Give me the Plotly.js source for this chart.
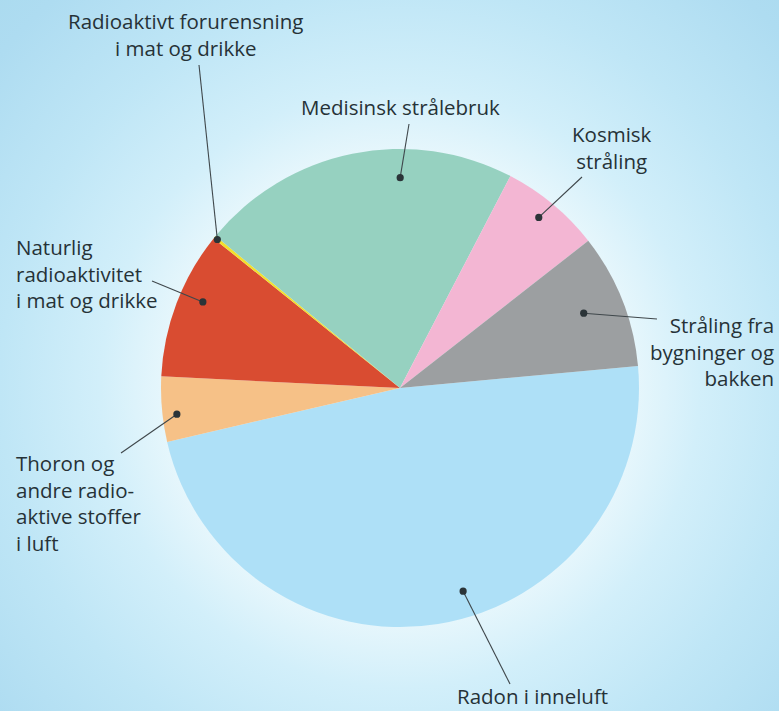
<!DOCTYPE html>
<html>
<head>
<meta charset="utf-8">
<script src="https://cdn.plot.ly/plotly-3.0.1.min.js"></script>
<style>
html,body{margin:0;padding:0;}
body{width:779px;height:711px;overflow:hidden;
background:radial-gradient(circle at 400px 388px,#f2fbfe 0px,#e8f7fc 230px,#d2effa 300px,#bfe6f6 400px,#aedcf1 520px,#a6d9ec 640px);}
#chart{width:779px;height:711px;}
</style>
</head>
<body>
<div id="chart"></div>
<script>
// Data (share of total annual radiation dose, %)
const categories = [
  "Radon i inneluft",
  "Thoron og andre radioaktive stoffer i luft",
  "Naturlig radioaktivitet i mat og drikke",
  "Radioaktivt forurensning i mat og drikke",
  "Medisinsk strålebruk",
  "Kosmisk stråling",
  "Stråling fra bygninger og bakken"
];
const values = [47.9, 4.4, 10.0, 0.2, 21.7, 6.8, 9.1];
const labelTexts = [
  "Radon i inneluft",
  "Thoron og<br>andre radio-<br>aktive stoffer<br>i luft",
  "Naturlig<br>radioaktivitet<br>i mat og drikke",
  "Radioaktivt forurensning<br>i mat og drikke",
  "Medisinsk strålebruk",
  "Kosmisk<br>stråling",
  "Stråling fra<br>bygninger og<br>bakken"
];

// Styling / layout
const colors = ["#aee0f7", "#f6c187", "#d94c31", "#f3df2c", "#96d1c0", "#f3b6d3", "#9c9fa1"];
const W = 779, H = 711;
const CX = 400, CY = 388, R = 239;
const ROT = 84.7;
// label placement: [x px, y px, xanchor, align]
const labelPos = [
  [532, 696, "center", "center"],
  [15, 503, "left", "left"],
  [15, 273, "left", "left"],
  [185, 35, "center", "center"],
  [400, 107, "center", "center"],
  [612, 148, "center", "center"],
  [775, 351, "right", "right"]
];
// leader line tail (px) and dot placement within slice [angle fraction, radius fraction]
const leaderTail = [[510, 684], [121, 453], [152, 281], [199, 65], [409, 124], [582, 177], [657, 319]];
const dotPlace = [[0.453, 0.89], [0.4, 0.94], [0.578, 0.90], [0.5, 0.985], [0.648, 0.88], [0.475, 0.92], [0.485, 0.83]];

const px = x => x / W;
const py = y => 1 - y / H;

const total = values.reduce((a, b) => a + b, 0);
const shapes = [];
const annotations = [];
let cum = 0;
values.forEach((v, i) => {
  const frac = (cum + dotPlace[i][0] * v) / total;
  cum += v;
  const ang = (ROT + 360 * frac) * Math.PI / 180; // clockwise from 12 o'clock
  const rr = R * dotPlace[i][1];
  const dx = CX + rr * Math.sin(ang);
  const dy = CY - rr * Math.cos(ang);
  const t = leaderTail[i];
  shapes.push({type: "line", xref: "paper", yref: "paper",
    x0: px(t[0]), y0: py(t[1]), x1: px(dx), y1: py(dy),
    line: {color: "#3f474b", width: 1.1}, layer: "above"});
  shapes.push({type: "circle", xref: "paper", yref: "paper",
    x0: px(dx - 3.6), x1: px(dx + 3.6), y0: py(dy - 3.6), y1: py(dy + 3.6),
    fillcolor: "#2b3438", line: {width: 0}, layer: "above"});
  const lp = labelPos[i];
  annotations.push({text: labelTexts[i], xref: "paper", yref: "paper",
    x: px(lp[0]), y: py(lp[1]), xanchor: lp[2], yanchor: "middle", align: lp[3],
    showarrow: false, borderpad: 0,
    font: {family: "Open Sans, sans-serif", size: 20.5, color: "#263237"}});
});

const trace = {
  type: "pie",
  labels: categories,
  values: values,
  sort: false,
  direction: "clockwise",
  rotation: ROT,
  textinfo: "none",
  hoverinfo: "label+percent",
  marker: {colors: colors, line: {width: 0}},
  domain: {x: [(CX - R) / W, (CX + R) / W], y: [1 - (CY + R) / H, 1 - (CY - R) / H]},
  showlegend: false
};

Plotly.newPlot("chart", [trace], {
  width: W, height: H,
  margin: {l: 0, r: 0, t: 0, b: 0},
  paper_bgcolor: "rgba(0,0,0,0)",
  plot_bgcolor: "rgba(0,0,0,0)",
  showlegend: false,
  shapes: shapes,
  annotations: annotations
}, {staticPlot: true});
</script>
</body>
</html>
